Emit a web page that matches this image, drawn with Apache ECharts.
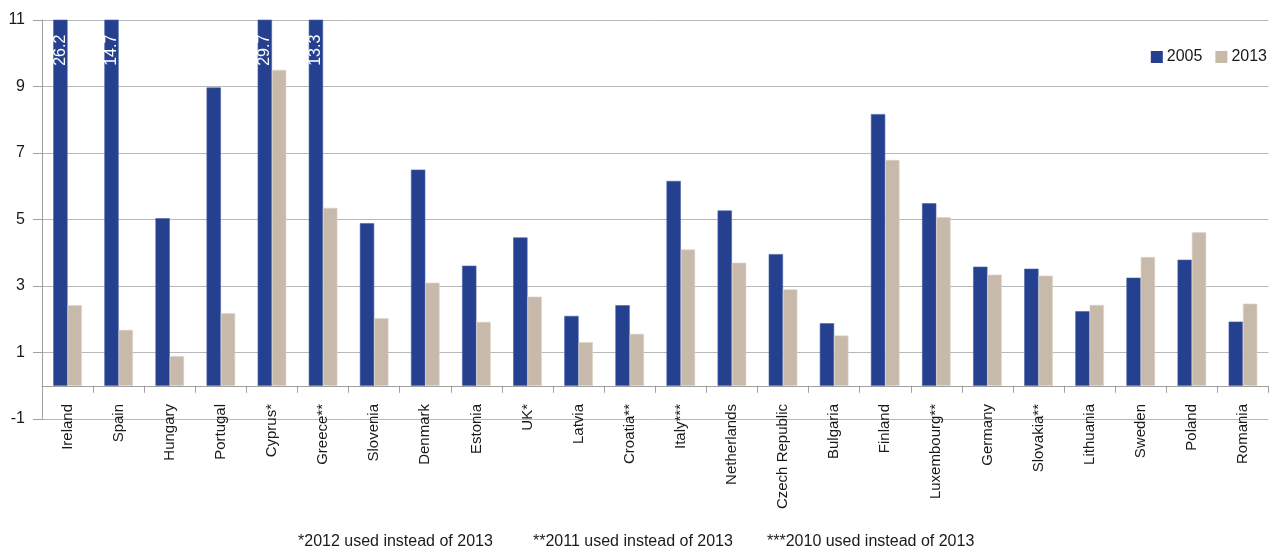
<!DOCTYPE html>
<html>
<head>
<meta charset="utf-8">
<script src="https://cdn.jsdelivr.net/npm/echarts@6/dist/echarts.min.js"></script>
<style>
  html, body { margin: 0; padding: 0; background: #ffffff; }
  #chart { width: 1276px; height: 550px; }
</style>
</head>
<body>
<div id="chart"></div>
<script>
// Countries along the horizontal axis
const countries = [
  'Ireland', 'Spain', 'Hungary', 'Portugal', 'Cyprus*', 'Greece**', 'Slovenia',
  'Denmark', 'Estonia', 'UK*', 'Latvia', 'Croatia**', 'Italy***', 'Netherlands',
  'Czech Republic', 'Bulgaria', 'Finland', 'Luxembourg**', 'Germany', 'Slovakia**',
  'Lithuania', 'Sweden', 'Poland', 'Romania'
];

// Values for 2005
const values2005 = [
  26.2, 14.7, 5.04, 8.97, 29.7, 13.3, 4.89,
  6.50, 3.61, 4.46, 2.10, 2.42, 6.16, 5.27,
  3.96, 1.88, 8.17, 5.49, 3.58, 3.52,
  2.24, 3.25, 3.79, 1.93
];

// Values for 2013 (or latest available year)
const values2013 = [
  2.42, 1.68, 0.89, 2.18, 9.50, 5.35, 2.03,
  3.10, 1.92, 2.68, 1.31, 1.56, 4.10, 3.70,
  2.90, 1.51, 6.79, 5.07, 3.34, 3.31,
  2.43, 3.87, 4.62, 2.47
];

const seriesNames = ['2005', '2013'];

// Value axis range and tick step
const yMin = -1;
const yMax = 11;
const yStep = 2;

const footnotes = [
  '*2012 used instead of 2013',
  '**2011 used instead of 2013',
  '***2010 used instead of 2013'
];

const FONT = "'Liberation Sans', Arial, Helvetica, sans-serif";
const TEXT = '#1a1a1a';
const GRID_COLOR = '#b8b8b8';
const AXIS_COLOR = '#a0a0a0';

const chart = echarts.init(document.getElementById('chart'), null, { renderer: 'canvas' });

chart.setOption({
  animation: false,
  backgroundColor: '#ffffff',
  textStyle: { fontFamily: FONT, color: TEXT },
  grid: { left: 42, right: 7.5, top: 20, bottom: 131, containLabel: false },
  legend: {
    data: seriesNames,
    right: 4,
    top: 44,
    itemWidth: 12,
    itemHeight: 12,
    itemGap: 13,
    icon: 'rect',
    itemStyle: { borderWidth: 0 },
    textStyle: { fontFamily: FONT, fontSize: 16, color: TEXT, padding: [0, 0, 0, -1] }
  },
  xAxis: {
    type: 'category',
    data: countries,
    axisLine: { show: true, onZero: true, lineStyle: { color: AXIS_COLOR, width: 1 } },
    axisTick: { show: true, length: 7, lineStyle: { color: AXIS_COLOR } },
    axisLabel: {
      interval: 0,
      rotate: 90,
      // names hang just under the zero line, crossing the lowest gridline
      margin: -15,
      fontFamily: FONT,
      fontSize: 15,
      color: TEXT
    },
    splitLine: { show: false }
  },
  yAxis: {
    type: 'value',
    min: yMin,
    max: yMax,
    interval: yStep,
    axisLine: { show: true, lineStyle: { color: AXIS_COLOR, width: 1 } },
    axisTick: { show: true, length: 9, lineStyle: { color: AXIS_COLOR } },
    axisLabel: { margin: 17, fontFamily: FONT, fontSize: 16, color: TEXT },
    splitLine: { show: true, lineStyle: { color: GRID_COLOR, width: 1 } }
  },
  series: [
    {
      name: seriesNames[0],
      type: 'bar',
      data: values2005,
      barWidth: 14.3,
      barGap: '0%',
      clip: true,
      itemStyle: { color: '#24408e', borderColor: '#4862a8', borderWidth: 0.6 },
      label: {
        show: true,
        position: 'insideTop',
        rotate: 90,
        align: 'right',
        verticalAlign: 'middle',
        distance: 15,
        fontFamily: FONT,
        fontSize: 16,
        color: '#ffffff',
        // Only bars running past the top of the axis carry their value
        formatter: p => (p.value > yMax ? p.value.toFixed(1) : '')
      }
    },
    {
      name: seriesNames[1],
      type: 'bar',
      data: values2013,
      barWidth: 14.3,
      barGap: '0%',
      clip: true,
      itemStyle: { color: '#c8baab', borderColor: '#ddd3c7', borderWidth: 0.6 }
    }
  ],
  graphic: [
    { type: 'text', left: 298, top: 534, style: { text: footnotes[0], font: '16px ' + FONT, fill: TEXT } },
    { type: 'text', left: 533, top: 534, style: { text: footnotes[1], font: '16px ' + FONT, fill: TEXT } },
    { type: 'text', left: 767, top: 534, style: { text: footnotes[2], font: '16px ' + FONT, fill: TEXT } }
  ]
});
</script>
</body>
</html>
